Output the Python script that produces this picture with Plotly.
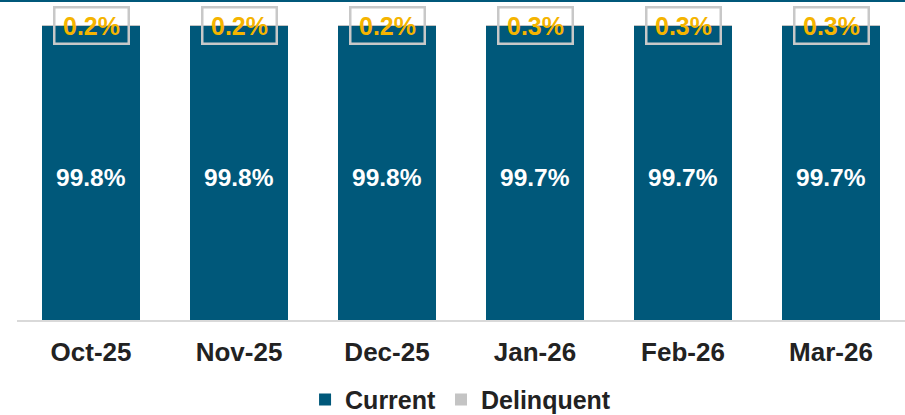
import plotly.graph_objects as go

months = ["Oct-25", "Nov-25", "Dec-25", "Jan-26", "Feb-26", "Mar-26"]
current = [99.8, 99.8, 99.8, 99.7, 99.7, 99.7]
delinquent = [0.2, 0.2, 0.2, 0.3, 0.3, 0.3]

FONT = "Liberation Sans, Arial, sans-serif"
fig = go.Figure()
fig.add_trace(go.Bar(
    x=months, y=current, name="Current", marker=dict(color="#00587a", line=dict(width=0)),
))
fig.add_trace(go.Bar(
    x=months, y=delinquent, name="Delinquent", marker=dict(color="#c4c4c4", line=dict(width=0)),
))
for m, c, d in zip(months, current, delinquent):
    fig.add_annotation(
        x=m, y=c / 2, xref="x", yref="y", text=f"<b>{c:.1f}%</b>", showarrow=False,
        font=dict(family=FONT, size=24.5, color="white"), yanchor="middle", yshift=-5,
    )
    fig.add_annotation(
        x=m, y=c + d, xref="x", yref="y", text=f"<b>{d:.1f}%</b>", showarrow=False,
        font=dict(family=FONT, size=25, color="#f5b400"),
        bordercolor="#c8c8c8", borderwidth=2.5, borderpad=1, yanchor="middle",
        width=70, height=32,
    )

fig.add_shape(type="line", xref="paper", yref="paper", x0=-17/888, x1=1, y0=(320-1)/295, y1=(320-1)/295,
              line=dict(color="#00587a", width=2))

fig.update_layout(
    barmode="stack", bargap=0.34, width=905, height=415,
    margin=dict(l=17, r=0, t=25, b=95, autoexpand=False),
    paper_bgcolor="white", plot_bgcolor="white",
    font=dict(family=FONT, color="#222222"),
    showlegend=True,
    legend=dict(orientation="h", x=0.4995, xanchor="center", y=-0.27, yanchor="middle",
                font=dict(family=FONT, size=25, color="#222222", weight="bold"),
                traceorder="normal"),
    xaxis=dict(showline=True, linecolor="#d9d9d9", linewidth=1.5, ticks="",
               tickfont=dict(family=FONT, size=26, color="#222222", weight="bold"),
               ticklabelstandoff=8, showgrid=False),
    yaxis=dict(range=[0, 100], visible=False, showgrid=False),
)
fig.write_html("out.html", config={"displayModeBar": False},
               post_script="document.body.style.margin='0px';")
